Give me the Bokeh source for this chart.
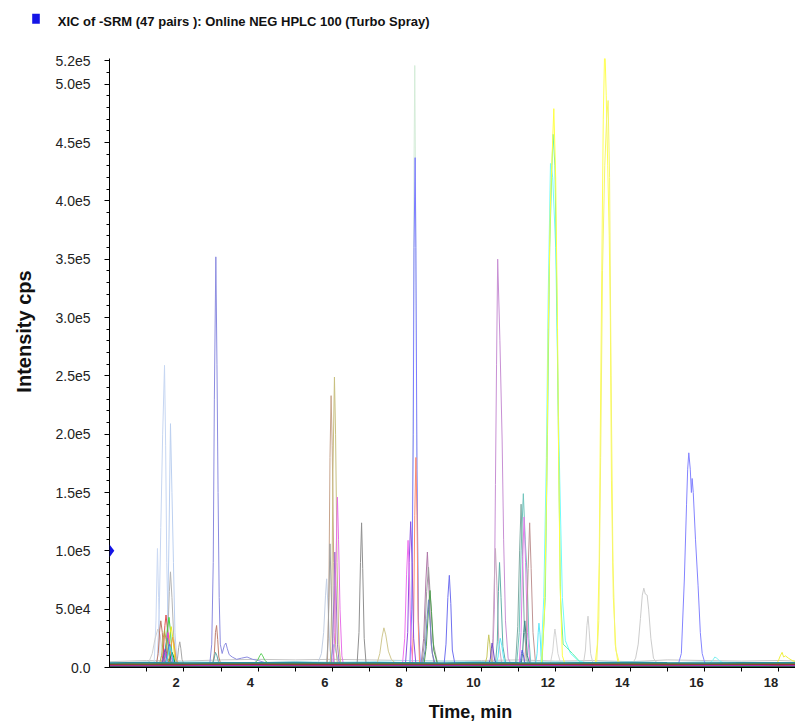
import math
from bokeh.plotting import figure
from bokeh.layouts import column, row
from bokeh.models import Range1d, LinearAxis, FixedTicker, PolyAnnotation
from bokeh.core.properties import value
from bokeh.embed import file_html
from bokeh.resources import INLINE

# ---------------- texts ----------------
TITLE = "XIC of -SRM (47 pairs ): Online NEG HPLC 100 (Turbo Spray)"
X_LABEL = "Time, min"
Y_LABEL = "Intensity cps"

# ---------------- axes ----------------
x_major_ticks = [2, 4, 6, 8, 10, 12, 14, 16, 18]
x_minor_ticks = [1, 3, 5, 7, 9, 11, 13, 15, 17]
y_major_ticks = [0, 50000, 100000, 150000, 200000, 250000, 300000, 350000,
                 400000, 450000, 500000, 520000]
y_tick_labels = ["0.0", "5.0e4", "1.0e5", "1.5e5", "2.0e5", "2.5e5", "3.0e5",
                 "3.5e5", "4.0e5", "4.5e5", "5.0e5", "5.2e5"]
y_minor_ticks = list(range(0, 520001, 10000))
x_start, x_end = 0.0, 18.45
y_start, y_end = 0.0, 522000.0
marker_level = 100000  # blue arrow on the intensity axis

# ---------------- traces (time in min, intensity in cps) ----------------
# cluster around 1.2 - 2.0 min
c1_t = [
    [1.28, 1.34, 1.38, 1.43, 1.48, 1.51, 1.54, 1.58, 1.63],
    [1.52, 1.57, 1.60, 1.64, 1.68, 1.72, 1.76, 1.82],
    [1.20, 1.25, 1.29, 1.32, 1.36, 1.40],
    [1.52, 1.57, 1.61, 1.64, 1.68, 1.73, 1.80],
    [1.05, 1.15, 1.22, 1.30, 1.36, 1.42, 1.50],
    [1.26, 1.31, 1.35, 1.38, 1.42, 1.46, 1.52],
    [1.40, 1.45, 1.49, 1.52, 1.56, 1.60, 1.66],
    [1.46, 1.51, 1.56, 1.60, 1.64, 1.68, 1.76],
    [1.50, 1.56, 1.62, 1.66, 1.70, 1.75, 1.84],
    [1.44, 1.50, 1.54, 1.57, 1.61, 1.66, 1.74],
    [1.40, 1.46, 1.52, 1.55, 1.59, 1.63, 1.70],
    [1.46, 1.52, 1.58, 1.62, 1.66, 1.71, 1.80],
    [1.56, 1.62, 1.67, 1.70, 1.74, 1.79, 1.88],
    [1.79, 1.83, 1.86, 1.89, 1.92, 1.95, 2.00],
    [1.38, 1.43, 1.47, 1.50, 1.54, 1.58, 1.66],
    [1.55, 1.60, 1.65, 1.68, 1.72, 1.76, 1.84],
    [1.34, 1.40, 1.45, 1.48, 1.52, 1.57, 1.64],
    [1.48, 1.54, 1.60, 1.63, 1.67, 1.72, 1.80],
]
c1_i = [
    [3000, 50000, 120000, 200000, 259000, 190000, 90000, 30000, 3000],
    [3000, 50000, 110000, 209000, 150000, 90000, 30000, 3000],
    [3000, 40000, 102000, 60000, 10000, 3000],
    [3000, 30000, 65000, 82000, 60000, 25000, 3000],
    [4000, 12000, 24000, 33000, 28000, 14000, 4000],
    [2500, 12000, 32000, 40000, 30000, 10000, 2500],
    [2500, 14000, 36000, 45000, 33000, 12000, 2500],
    [2500, 13000, 34000, 43000, 31000, 11000, 2500],
    [2500, 11000, 28000, 35000, 26000, 9000, 2500],
    [2500, 9000, 24000, 30000, 22000, 8000, 2500],
    [2000, 8000, 20000, 25000, 18000, 7000, 2000],
    [2000, 6000, 16000, 20000, 15000, 5000, 2000],
    [2000, 8000, 21000, 26000, 19000, 7000, 2000],
    [3000, 8000, 17000, 22000, 16000, 7000, 3000],
    [1500, 5000, 13000, 16000, 12000, 4000, 1500],
    [1500, 4000, 10000, 13000, 10000, 4000, 1500],
    [2500, 10000, 26000, 32000, 24000, 8000, 2500],
    [2000, 6000, 14000, 18000, 13000, 5000, 2000],
]
c1_color = ["#c6d6f2", "#bcd0f0", "#ccdaf4", "#b4b4b4", "#d0d0d0", "#c07868",
            "#e05050", "#40d040", "#e8e820", "#e040e0", "#40a8a8", "#5070e8",
            "#f0a040", "#a8a8a8", "#8040c0", "#208040", "#b0b040", "#40e0f0"]

# around 2.7 - 4.5 min
c2_t = [
    [2.70, 2.75, 2.79, 2.82, 2.86, 2.89, 2.92, 2.95, 2.98, 3.03, 3.09, 3.13,
     3.17, 3.22, 3.30, 3.42, 3.55, 3.70, 3.85, 4.00, 4.20, 4.45],
    [2.78, 2.82, 2.85, 2.88, 2.91, 2.94, 2.99],
    [2.76, 2.81, 2.85, 2.89, 2.93, 2.98],
    [3.90, 3.98, 4.04, 4.08, 4.12, 4.18, 4.26],
]
c2_i = [
    [4000, 20000, 90000, 230000, 352000, 260000, 150000, 60000, 20000, 12000,
     19000, 21000, 16000, 11000, 9000, 7000, 8000, 9000, 7000, 6000, 4000, 3000],
    [3000, 12000, 30000, 36000, 24000, 9000, 3000],
    [2500, 7000, 13000, 10000, 5000, 2500],
    [4000, 6000, 10000, 12000, 10000, 6000, 4000],
]
c2_color = ["#8c8ce0", "#c08070", "#60a8a8", "#60d060"]

# around 5.6 - 7.7 min
c3_t = [
    [5.62, 5.70, 5.76, 5.81, 5.84, 5.88, 5.93, 6.00],
    [5.90, 5.96, 6.00, 6.04, 6.08, 6.14, 6.22],
    [5.86, 5.90, 5.93, 5.96, 5.99, 6.03, 6.08, 6.13],
    [5.94, 5.98, 6.01, 6.05, 6.08, 6.12, 6.17, 6.22],
    [5.84, 5.88, 5.91, 5.93, 5.96, 6.00, 6.05],
    [5.97, 6.01, 6.04, 6.06, 6.09, 6.13, 6.18],
    [6.02, 6.06, 6.09, 6.13, 6.16, 6.20, 6.25, 6.29],
    [6.66, 6.71, 6.75, 6.78, 6.81, 6.85, 6.90],
    [7.20, 7.27, 7.33, 7.38, 7.43, 7.50, 7.58, 7.68],
]
c3_i = [
    [5000, 12000, 30000, 62000, 76000, 50000, 15000, 4000],
    [3000, 8000, 16000, 20000, 15000, 7000, 3000],
    [3000, 60000, 180000, 233000, 190000, 90000, 20000, 3000],
    [3000, 60000, 170000, 249000, 200000, 90000, 20000, 3000],
    [3000, 25000, 75000, 106000, 70000, 20000, 3000],
    [3000, 25000, 70000, 99000, 70000, 20000, 3000],
    [3000, 30000, 90000, 146000, 110000, 50000, 10000, 3000],
    [3500, 30000, 90000, 124000, 85000, 25000, 3500],
    [4000, 12000, 26000, 34000, 28000, 14000, 7000, 4000],
]
c3_color = ["#c4d0e4", "#80e8f0", "#c8a48c", "#c8c080", "#a0a0a0", "#a070c8",
            "#e870e8", "#909090", "#d0c890"]

# around 7.9 - 9.3 min
c4_t = [
    [8.08, 8.13, 8.17, 8.19, 8.21, 8.23, 8.26, 8.30, 8.35],
    [8.08, 8.13, 8.17, 8.19, 8.22, 8.24, 8.27, 8.31, 8.36],
    [8.14, 8.18, 8.21, 8.24, 8.27, 8.30, 8.34],
    [7.96, 8.02, 8.06, 8.10, 8.14, 8.18, 8.24],
    [7.88, 7.94, 7.99, 8.03, 8.07, 8.11, 8.16],
    [8.38, 8.45, 8.51, 8.55, 8.59, 8.65, 8.73],
    [8.40, 8.47, 8.53, 8.58, 8.63, 8.70, 8.82],
    [8.46, 8.52, 8.58, 8.62, 8.66, 8.72, 8.82],
    [8.42, 8.49, 8.54, 8.58, 8.62, 8.68, 8.76],
    [9.00, 9.05, 9.10, 9.14, 9.18, 9.22, 9.29],
]
c4_i = [
    [3000, 60000, 250000, 430000, 516000, 420000, 200000, 50000, 3000],
    [3000, 50000, 200000, 360000, 437000, 360000, 170000, 40000, 3000],
    [3000, 40000, 130000, 180000, 130000, 40000, 3000],
    [3000, 30000, 90000, 125000, 90000, 25000, 3000],
    [3000, 25000, 80000, 109000, 75000, 20000, 3000],
    [3000, 25000, 75000, 99000, 70000, 20000, 3000],
    [3000, 22000, 65000, 86000, 60000, 22000, 4000],
    [3000, 18000, 50000, 66000, 48000, 15000, 3000],
    [3000, 15000, 42000, 58000, 40000, 12000, 3000],
    [3000, 20000, 60000, 79000, 55000, 15000, 3000],
]
c4_color = ["#d4ecd8", "#7c7cff", "#ff8c70", "#9050e0", "#f070f0", "#b078a8",
            "#a0a0a0", "#50a050", "#7088c0", "#7070f0"]

# around 10.1 - 10.8 min
c5_t = [
    [10.30, 10.35, 10.38, 10.41, 10.44, 10.50, 10.56, 10.60, 10.65, 10.72, 10.80],
    [10.26, 10.31, 10.35, 10.38, 10.42, 10.47, 10.55],
    [10.38, 10.43, 10.46, 10.49, 10.53, 10.58, 10.66],
    [10.10, 10.15, 10.18, 10.20, 10.23, 10.26, 10.31],
    [10.40, 10.45, 10.48, 10.51, 10.55, 10.60, 10.66],
    [10.20, 10.24, 10.27, 10.29, 10.32, 10.36, 10.42],
]
c5_i = [
    [3000, 50000, 157000, 260000, 350000, 280000, 195000, 110000, 40000, 8000, 3000],
    [3000, 25000, 75000, 102000, 70000, 22000, 3000],
    [3000, 22000, 65000, 90000, 60000, 18000, 3000],
    [3000, 9000, 22000, 28000, 20000, 8000, 3000],
    [3000, 9000, 20000, 25000, 19000, 8000, 3000],
    [3000, 7000, 16000, 21000, 15000, 6000, 3000],
]
c5_color = ["#c890d4", "#c8a8c0", "#60b0a8", "#c8c860", "#60e8f8", "#7050c8"]

# around 10.9 - 11.7 min
c6_t = [
    [10.95, 11.02, 11.07, 11.13, 11.18, 11.23, 11.28, 11.33],
    [10.92, 10.98, 11.03, 11.07, 11.11, 11.16, 11.24],
    [11.02, 11.07, 11.11, 11.15, 11.19, 11.24, 11.31],
    [11.16, 11.21, 11.26, 11.30, 11.34, 11.39, 11.46],
    [11.07, 11.11, 11.14, 11.17, 11.20, 11.24, 11.30],
    [11.46, 11.50, 11.53, 11.55, 11.58, 11.61, 11.66],
    [11.02, 11.06, 11.08, 11.10, 11.13, 11.16, 11.21],
]
c6_i = [
    [3000, 30000, 100000, 149000, 110000, 80000, 25000, 3000],
    [3000, 35000, 100000, 140000, 95000, 30000, 3000],
    [3000, 30000, 90000, 129000, 90000, 30000, 3000],
    [3000, 25000, 85000, 124000, 85000, 30000, 3000],
    [3000, 12000, 30000, 40000, 28000, 10000, 3000],
    [3000, 12000, 30000, 38000, 28000, 10000, 3000],
    [3000, 6000, 12000, 15000, 11000, 5000, 3000],
]
c6_color = ["#70c4bc", "#80aca4", "#e080e8", "#c09494", "#408888", "#60e8f8", "#5858e0"]

# around 11.6 - 13.0 min
c7_t = [
    [11.60, 11.68, 11.75, 11.80, 11.86, 11.92, 12.00, 12.06, 12.11, 12.18, 12.26,
     12.40, 12.60, 12.80],
    [11.63, 11.72, 11.78, 11.84, 11.90, 11.93, 11.98, 12.04, 12.08, 12.13, 12.20,
     12.30, 12.45, 12.65],
    [11.62, 11.70, 11.76, 11.80, 11.86, 11.95, 12.00, 12.05, 12.08, 12.12, 12.18, 12.25],
    [11.86, 11.92, 11.96, 11.98, 12.01, 12.06, 12.13],
    [12.75, 12.80, 12.84, 12.87, 12.90, 12.94, 13.00],
]
c7_i = [
    [3000, 60000, 180000, 320000, 432000, 420000, 360000, 240000, 160000, 60000,
     23000, 12000, 6000, 4000],
    [3000, 60000, 200000, 360000, 430000, 457000, 430000, 300000, 180000, 60000,
     20000, 17000, 12000, 5000],
    [3000, 50000, 160000, 290000, 400000, 479000, 420000, 290000, 180000, 70000, 10000, 3000],
    [4000, 14000, 28000, 33000, 26000, 12000, 4000],
    [4000, 15000, 36000, 44000, 32000, 12000, 4000],
]
c7_color = ["#70fcfc", "#60f0a8", "#ffff44", "#d4d4d4", "#d0d0d0"]

# 13.0 min to the end
c8_t = [
    [13.06, 13.12, 13.17, 13.20, 13.24, 13.28, 13.32, 13.36, 13.40, 13.44, 13.47,
     13.50, 13.55, 13.62, 13.72],
    [13.10, 13.16, 13.21, 13.26, 13.32, 13.37, 13.41, 13.45, 13.49, 13.54, 13.60, 13.68],
    [14.08, 14.15, 14.22, 14.28, 14.33, 14.37, 14.41, 14.46, 14.50, 14.56, 14.63, 14.72],
    [15.30, 15.38, 15.46, 15.52, 15.55, 15.58, 15.62, 15.65, 15.67, 15.70, 15.76,
     15.83, 15.89, 15.94, 16.02],
    [16.15, 16.22, 16.28, 16.33, 16.40, 16.50],
    [17.90, 17.98, 18.04, 18.09, 18.13, 18.18, 18.26, 18.36, 18.45],
]
c8_i = [
    [3000, 20000, 90000, 200000, 340000, 470000, 535000, 490000, 430000, 370000,
     300000, 160000, 60000, 15000, 3000],
    [3000, 40000, 180000, 340000, 430000, 470000, 486000, 420000, 250000, 90000, 20000, 3000],
    [4000, 8000, 20000, 42000, 62000, 68000, 63000, 62000, 50000, 25000, 8000, 4000],
    [3000, 12000, 75000, 140000, 170000, 184000, 170000, 150000, 162000, 150000,
     110000, 70000, 30000, 12000, 3000],
    [4000, 6000, 9000, 8000, 6000, 4000],
    [3000, 5000, 10000, 13000, 9000, 10000, 8000, 6000, 5000],
]
c8_color = ["#ffff50", "#f4f470", "#cccccc", "#8484ff", "#80f0f0", "#f0f040"]

# baselines of all channels
base_t = [0, 1, 2, 3, 4, 5, 6, 7, 8, 9, 10, 11, 12, 13, 14, 15, 16, 17, 18, 18.5]
noise_i = [
    [5000, 6000, 5500, 6500, 7000, 6500, 7000, 6500, 6000, 5500, 6000, 6500,
     5500, 6000, 5000, 6500, 6000, 5500, 6000, 5500],
    [4500, 4000, 5000, 4500, 4000, 5000, 4500, 5000, 6000, 5500, 5000, 4500,
     5000, 4500, 5000, 4000, 5000, 4500, 4000, 4500],
]
noise_color = ["#c4c4c4", "#a8e4ec"]
base_i = [
    [400, 500, 300, 600, 400, 500, 300, 400, 500, 600, 400, 300, 500, 400, 600, 400, 500, 300, 400, 400],
    [800, 900, 700, 1000, 800, 900, 1100, 800, 900, 1000, 800, 900, 1000, 800, 700, 900, 1000, 800, 900, 800],
    [1300, 1200, 1400, 1200, 1300, 1500, 1300, 1200, 1400, 1300, 1200, 1400, 1300, 1500, 1200, 1300, 1400, 1200, 1300, 1300],
    [1800, 1600, 2000, 1700, 1900, 1800, 1600, 2000, 1800, 1700, 1900, 2100, 1800, 1700, 1900, 1800, 1700, 1900, 1800, 1800],
    [2200, 2300, 2100, 2400, 2200, 2300, 2100, 2200, 2400, 2300, 2100, 2200, 2300, 2200, 2100, 2400, 2200, 2300, 2100, 2200],
    [2600, 2800, 2500, 2900, 2700, 2600, 2800, 2500, 2700, 2900, 2600, 2800, 2700, 2500, 2800, 2600, 2700, 2900, 2600, 2700],
    [3300, 3100, 3500, 3200, 3400, 3300, 3600, 3200, 3400, 3300, 3500, 3200, 3400, 3600, 3300, 3200, 3400, 3300, 3500, 3300],
    [3900, 4200, 3800, 4100, 4000, 4300, 3900, 4100, 4000, 3800, 4200, 4000, 3900, 4100, 4300, 4000, 3900, 4100, 4000, 4000],
]
base_color = ["#3030e0", "#1a1a8c", "#208a40", "#7a2a8a", "#c030c0", "#a02828", "#707020", "#2a8a9a"]

FONT = "Liberation Sans"
PAGE_W, PAGE_H = 795, 722
TOP_H, BOTTOM_H, LEFT_W = 38, 24, 40
MID_H = PAGE_H - TOP_H - BOTTOM_H


def strip(w, h):
    s = figure(width=w, height=h, x_range=Range1d(0, w), y_range=Range1d(0, h),
               x_axis_type=None, y_axis_type=None, toolbar_location=None,
               output_backend="svg", min_border=0, outline_line_color=None,
               background_fill_color="white", border_fill_color="white")
    s.frame_align = False
    return s


# ---------------- title strip (blue square + title) ----------------
pt = strip(PAGE_W, TOP_H)
pt.rect(x=[35.5], y=[19.7], width=7.6, height=10, fill_color="#1414e6", line_color=None)
pt.text(x=[57.3], y=[17.5], text=[TITLE], text_font=value(FONT),
        text_font_style="bold", text_font_size="13px", text_color="#111111",
        text_align="left", text_baseline="middle")

# ---------------- y-title strip ----------------
pl = strip(LEFT_W, MID_H)
pl.text(x=[23], y=[PAGE_H - BOTTOM_H - 331], text=[Y_LABEL], angle=math.pi / 2,
        text_font=value(FONT), text_font_style="bold", text_font_size="20px",
        text_color="#111111", text_align="center", text_baseline="middle")

# ---------------- x-title strip ----------------
pb = strip(PAGE_W, BOTTOM_H)
pb.text(x=[470], y=[PAGE_H - 711], text=[X_LABEL], text_font=value(FONT),
        text_font_style="bold", text_font_size="18px", text_color="#111111",
        text_align="center", text_baseline="middle")

# ---------------- main chart ----------------
p = figure(width=PAGE_W - LEFT_W, height=MID_H,
           x_range=Range1d(x_start, x_end), y_range=Range1d(y_start, y_end),
           x_axis_type=None, y_axis_type=None,
           toolbar_location=None, output_backend="svg",
           min_border_left=109 - LEFT_W, min_border_right=0,
           min_border_top=58 - TOP_H, min_border_bottom=(PAGE_H - BOTTOM_H) - 667,
           outline_line_color=None,
           background_fill_color="white", border_fill_color="white")
p.frame_align = False

yaxis = LinearAxis(
    ticker=FixedTicker(ticks=y_major_ticks, minor_ticks=y_minor_ticks),
    major_label_overrides={v: s for v, s in zip(y_major_ticks, y_tick_labels)},
    major_tick_out=5, major_tick_in=0, minor_tick_out=3, minor_tick_in=0,
    major_label_standoff=14,
    major_label_text_font=FONT, major_label_text_font_size="14px",
    major_label_text_color="#222222",
    axis_line_color="black", major_tick_line_color="black", minor_tick_line_color="black")
p.add_layout(yaxis, "left")

xaxis_ticks = LinearAxis(
    ticker=FixedTicker(ticks=x_major_ticks, minor_ticks=x_minor_ticks),
    major_label_overrides={v: "" for v in x_major_ticks},
    major_label_text_font_size="0px", major_label_standoff=0,
    major_tick_out=4, major_tick_in=0, minor_tick_out=4, minor_tick_in=0,
    axis_line_color="black", major_tick_line_color="black", minor_tick_line_color="black")
p.add_layout(xaxis_ticks, "below")

x_label_shift = 0.21
p.extra_x_ranges = {"xlab": Range1d(x_start + x_label_shift, x_end + x_label_shift)}
xaxis_labels = LinearAxis(
    x_range_name="xlab",
    ticker=FixedTicker(ticks=x_major_ticks, minor_ticks=[]),
    axis_line_color=None, major_tick_line_color=None, minor_tick_line_color=None,
    major_tick_out=0, major_tick_in=0, minor_tick_out=0, minor_tick_in=0,
    major_label_standoff=6,
    major_label_text_font=FONT, major_label_text_font_style="bold",
    major_label_text_font_size="13px", major_label_text_color="#222222")
p.add_layout(xaxis_labels, "below")

# draw traces
for ys, c in zip(noise_i, noise_color):
    p.line(base_t, ys, line_color=c, line_width=1)
for ts, ys, cs in [(c1_t, c1_i, c1_color), (c2_t, c2_i, c2_color), (c3_t, c3_i, c3_color),
                   (c4_t, c4_i, c4_color), (c5_t, c5_i, c5_color), (c6_t, c6_i, c6_color),
                   (c7_t, c7_i, c7_color), (c8_t, c8_i, c8_color)]:
    for t, y, c in zip(ts, ys, cs):
        p.line(t, y, line_color=c, line_width=1)
for ys, c in zip(base_i, base_color):
    p.line(base_t, ys, line_color=c, line_width=1.5)

# blue arrow marking 1.0e5 on the intensity axis
p.add_layout(PolyAnnotation(xs=[0.0, 0.13, 0.0],
                            ys=[marker_level - 5500, marker_level, marker_level + 5500],
                            fill_color="#1414e6", fill_alpha=1.0, line_color=None))

layout = column(pt, row(pl, p, spacing=0), pb, spacing=0)
open("out.html", "w").write(file_html(layout, INLINE))
